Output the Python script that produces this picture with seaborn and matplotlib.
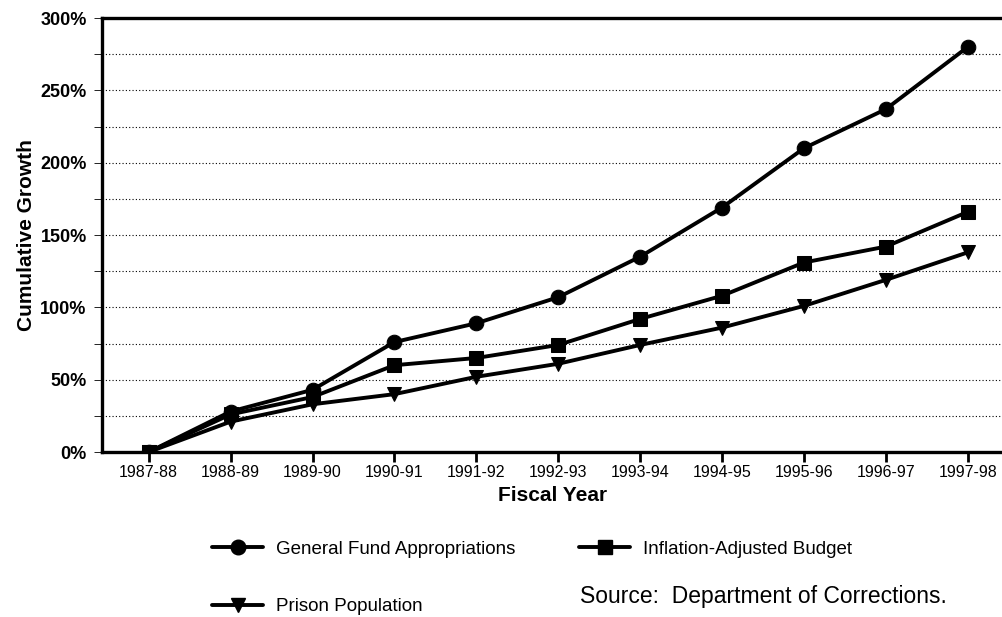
import numpy as np
import pandas as pd
import matplotlib.pyplot as plt
from matplotlib.lines import Line2D
from matplotlib.ticker import MultipleLocator
import seaborn as sns

# values (cumulative growth, %)
years = ['1987-88', '1988-89', '1989-90', '1990-91', '1991-92', '1992-93',
         '1993-94', '1994-95', '1995-96', '1996-97', '1997-98']
general_fund = [0, 28, 43, 76, 89, 107, 135, 169, 210, 237, 280]
inflation_adj = [0, 26, 38, 60, 65, 74, 92, 108, 131, 142, 166]
prison_pop = [0, 21, 33, 40, 52, 61, 74, 86, 101, 119, 138]

series_names = ['General Fund Appropriations', 'Inflation-Adjusted Budget',
                'Prison Population']
series_markers = {'General Fund Appropriations': 'o',
                  'Inflation-Adjusted Budget': 's',
                  'Prison Population': 'v'}

df = pd.DataFrame({
    'Fiscal Year': years * 3,
    'Growth': general_fund + inflation_adj + prison_pop,
    'Series': np.repeat(series_names, len(years)),
})

sns.set_style('white')
plt.rcParams['font.family'] = ['Liberation Sans', 'DejaVu Sans']
for key in ['text.color', 'axes.labelcolor', 'xtick.color', 'ytick.color']:
    plt.rcParams[key] = 'black'

fig = plt.figure(figsize=(10.03, 6.17), dpi=100)
ax = fig.add_axes([0.1017, 0.2674, 0.8983, 0.7034])

sns.lineplot(data=df, x='Fiscal Year', y='Growth', style='Series',
             markers=series_markers, dashes=False, color='black',
             linewidth=2.8, markersize=10.5, markeredgecolor='black',
             legend=False, ax=ax, sort=False)

ax.set_xlim(-0.57, 10.43)
ax.set_ylim(0, 300)
ax.yaxis.set_major_locator(MultipleLocator(50))
ax.yaxis.set_minor_locator(MultipleLocator(25))
ax.set_yticklabels([f'{int(v)}%' for v in ax.get_yticks()], fontweight='bold', fontsize=13)
ax.grid(which='both', axis='y', linestyle=(0, (1, 2)), color='black', linewidth=0.8)
ax.tick_params(axis='x', labelsize=11.5, length=7, width=2, direction='out',
               bottom=True, pad=2)
ax.tick_params(axis='y', which='both', length=6, width=0.6, left=True, pad=5)
ax.set_xlabel('Fiscal Year', fontweight='bold', fontsize=15, labelpad=5)
ax.set_ylabel('Cumulative Growth', fontweight='bold', fontsize=15, labelpad=3)

for side in ['left', 'bottom', 'top']:
    ax.spines[side].set_linewidth(2.4)
    ax.spines[side].set_color('black')
ax.spines['right'].set_visible(False)

handles = {name: Line2D([], [], color='black', marker=series_markers[name],
                        linewidth=2.8, markersize=10.5) for name in series_names}
order = ['General Fund Appropriations', 'Prison Population', 'Inflation-Adjusted Budget']
fig.legend([handles[n] for n in order], order, ncol=2, frameon=False,
           loc='upper left', bbox_to_anchor=(0.195, 0.151), fontsize=13.5,
           handlelength=2.7, handletextpad=0.7, labelspacing=2.15,
           columnspacing=3.4)

fig.text(0.578, 0.022, 'Source:  Department of Corrections.', fontsize=16.5)

fig.savefig('out.png', dpi=100)
